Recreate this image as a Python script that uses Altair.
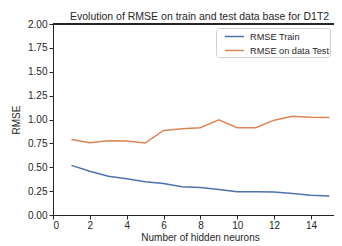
import altair as alt
import pandas as pd

neurons = list(range(1, 16))
rmse_train = [0.52, 0.458, 0.406, 0.38, 0.347, 0.33, 0.295, 0.288, 0.267, 0.243, 0.243, 0.24, 0.226, 0.208, 0.20]
rmse_test = [0.79, 0.757, 0.778, 0.774, 0.753, 0.885, 0.903, 0.913, 0.997, 0.913, 0.913, 0.993, 1.035, 1.024, 1.02]
series_names = ["RMSE Train", "RMSE on data Test"]
series_colors = ["#4c72b0", "#dd8452"]
x_ticks = [0, 2, 4, 6, 8, 10, 12, 14]
y_ticks = [0, 0.25, 0.5, 0.75, 1.0, 1.25, 1.5, 1.75, 2.0]

rows = []
for n, a, b in zip(neurons, rmse_train, rmse_test):
    rows.append({"n": n, "rmse": a, "series": series_names[0]})
    rows.append({"n": n, "rmse": b, "series": series_names[1]})
df = pd.DataFrame(rows)

W, H = 281, 191
TXT = "#262626"
FONT = "Liberation Sans"

lines = alt.Chart(df).mark_line(strokeWidth=1.5).encode(
    x=alt.X("n:Q", scale=alt.Scale(domain=[0, 15.25], nice=False, zero=False),
            axis=alt.Axis(values=x_ticks, title="Number of hidden neurons", grid=False,
                          titleX=147, titlePadding=2, labelPadding=1)),
    y=alt.Y("rmse:Q", scale=alt.Scale(domain=[0, 2], nice=False),
            axis=alt.Axis(values=y_ticks, format=".2f", title="RMSE", grid=False,
                          labelPadding=2, titlePadding=6)),
    color=alt.Color("series:N", sort=series_names,
                    scale=alt.Scale(domain=series_names, range=series_colors),
                    legend=alt.Legend(title=None, orient="none", legendX=163, legendY=4,
                                      symbolType="M0.07,0H2.79", symbolStrokeWidth=1.5,
                                      symbolSize=196,
                                      labelFontSize=9.2, labelColor=TXT, labelFont=FONT,
                                      strokeColor="#d0d0d0", fillColor="white", cornerRadius=3,
                                      padding=0.5, rowPadding=0, labelOffset=17.5)),
)

top_spine = alt.Chart(df).mark_rule(color=TXT, strokeWidth=1).encode(
    x=alt.value(0), x2=alt.value(W + 10), y=alt.value(0)
)

chart = alt.layer(top_spine, lines).properties(
    width=W, height=H,
    title=alt.TitleParams("Evolution of RMSE on train and test data base for D1T2",
                          anchor="start", frame="group", dx=17, offset=-3, fontSize=10.5,
                          fontWeight="normal", color=TXT, font=FONT),
    autosize=alt.AutoSizeParams(type="none"),
    padding={"left": 45, "top": 16, "right": 0, "bottom": 30},
).configure_view(stroke=None).configure_axis(
    domainColor=TXT, tickColor=TXT, labelColor=TXT, titleColor=TXT,
    labelFont=FONT, titleFont=FONT, labelFontSize=10, titleFontSize=10,
    titleFontWeight="normal", tickSize=4, domainWidth=1
)

chart.save("out.html", embed_options={"renderer": "svg", "actions": False})
